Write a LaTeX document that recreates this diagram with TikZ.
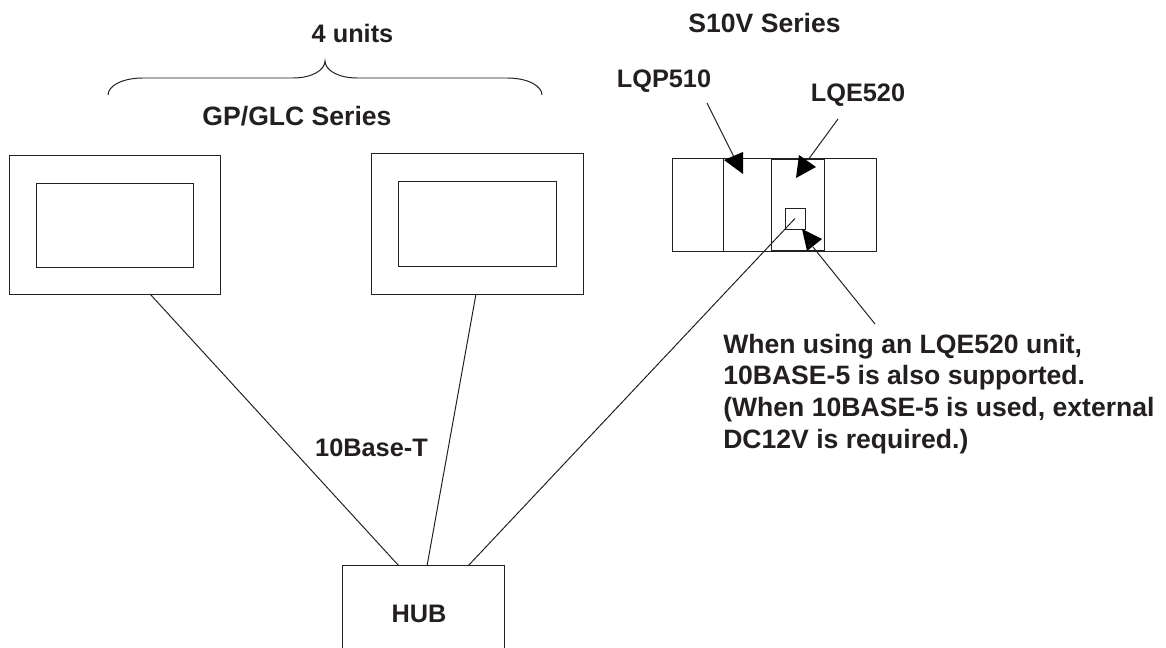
\documentclass[tikz,border=0pt]{standalone}
\usepackage{fontspec}
\setmainfont{Liberation Sans}
\usepackage{xcolor}
\definecolor{inkgrey}{HTML}{231F20}

\begin{document}
\begin{tikzpicture}[
    x=0.025cm, y=-0.025cm,
    box/.style={draw=inkgrey, line width=0.7pt, inner sep=0pt, outer sep=0pt},
    lbl/.style={font=\fontsize{18.9}{22.7}\selectfont\bfseries, text=inkgrey, align=left, inner sep=0pt, anchor=base},
    lblsmall/.style={lbl, font=\fontsize{18}{22}\selectfont\bfseries},
    wire/.style={draw=inkgrey, line width=0.7pt},
    headtip/.style={fill=black, draw=none}
  ]
    \useasboundingbox (0,0) rectangle (1166,648);
    % panels
    \node[box, minimum width=5.25cm, minimum height=3.45cm] (panelA) at (115,225) {};
    \node[box, minimum width=3.9cm, minimum height=2.075cm] (screenA) at (115,225.5) {};
    \node[box, minimum width=5.275cm, minimum height=3.5cm] (panelB) at (477.5,224) {};
    \node[box, minimum width=3.925cm, minimum height=2.1cm] (screenB) at (477.5,224) {};
    % S10V rack
    \node[box, minimum width=1.275cm, minimum height=2.3cm] (slotA) at (697.5,205) {};
    \node[box, minimum width=1.2cm, minimum height=2.3cm] (slotB) at (747,205) {};
    \node[box, minimum width=1.325cm, minimum height=2.3cm] (slotC) at (797.5,205) {};
    \node[box, minimum width=1.3cm, minimum height=2.3cm] (slotD) at (850,205) {};
    \draw[wire, line width=1.2pt] (slotC.north west) -- (slotC.north east);
    \draw[wire, line width=1.2pt] (slotC.south west) -- (slotC.south east);
    \node[box, minimum width=0.5cm, minimum height=0.525cm] (port) at (795,218.5) {};
    \node[box, minimum width=4.025cm, minimum height=2.3cm] (hub) at (423.5,612) {};
    % labels
    \node[lblsmall] (lblHub) at (419,622) {HUB};
    \node[lblsmall] (lblUnits) at (352.5,43) {4 units};
    \node[lbl] (lblGp) at (297,126) {GP/GLC Series};
    \node[lbl] (lblS) at (764.5,33) {S10V Series};
    \node[lblsmall] (lblP) at (664,88) {LQP510};
    \node[lblsmall] (lblE) at (858,102) {LQE520};
    \node[lblsmall] (lblT) at (371.5,457) {10Base-T};
    \node[lbl, anchor=north west] (lblNote) at (723,333.5)
      {When using an LQE520 unit,\\
       10BASE-5 is also supported.\\
       (When 10BASE-5 is used, external\\
       DC12V is required.)};
    % brace
    \draw[wire] (108,95) .. controls (108,86) and (122,78) .. (143,78) -- (293,78)
      .. controls (312,78) and (325,70) .. (325,61)
      .. controls (325,70) and (338,78) .. (357,78) -- (507,78)
      .. controls (528,78) and (542,86) .. (542,95);
    % cables
    \coordinate (hubA) at (399,566);
    \coordinate (hubB) at (427,566);
    \coordinate (hubC) at (468,566);
    \coordinate (outA) at (150,294);
    \coordinate (outB) at (476,294);
    \draw[wire] (outA) -- (hubA);
    \draw[wire] (outB) -- (hubB);
    \draw[wire] (port.center) -- (hubC);
    % pointers
    \coordinate (fromP) at (707,103);
    \coordinate (toP) at (734,157);
    \coordinate (fromE) at (838,119);
    \coordinate (toE) at (808,160);
    \coordinate (fromN) at (875,324);
    \coordinate (toN) at (813,247);
    \draw[wire] (fromP) -- (toP);
    \draw[wire] (fromE) -- (toE);
    \draw[wire] (fromN) -- (toN);
    \fill[headtip] (724,160) -- (743,152) -- (743,174) -- cycle;
    \fill[headtip] (799,155) -- (816,167) -- (796,178) -- cycle;
    \fill[headtip] (802,229) -- (822,239) -- (807,251) -- cycle;
  \end{tikzpicture}
\end{document}
